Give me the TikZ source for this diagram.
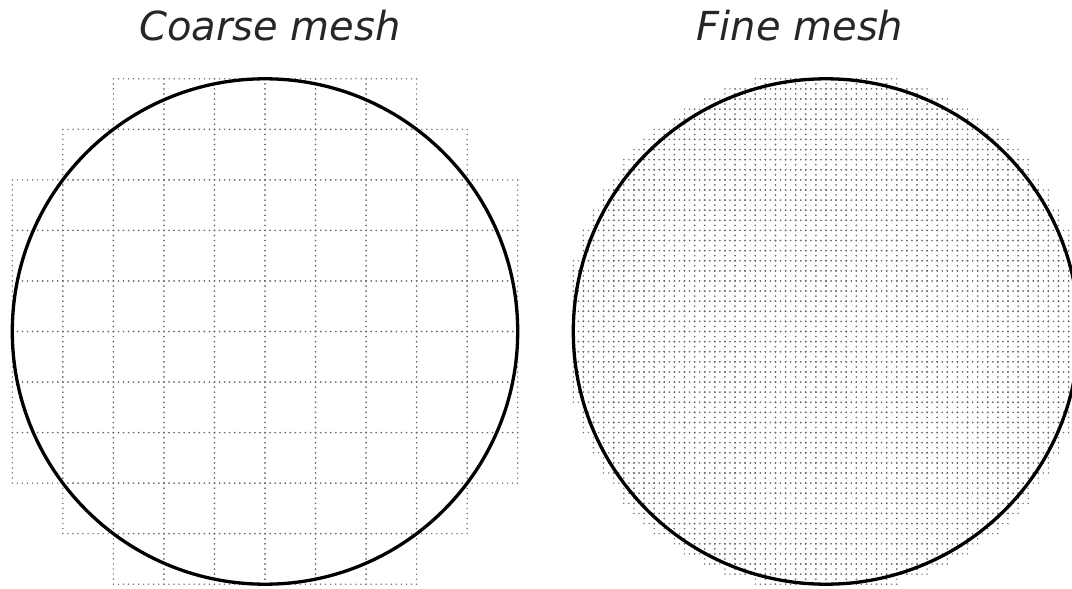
\documentclass[tikz,border=0pt]{standalone}
\usepackage{fontspec}
\setsansfont{DejaVu Sans}[ItalicFont={DejaVu Sans Oblique}]
\begin{document}
\begin{tikzpicture}[x=1pt,y=-1pt,
  cell/.style={draw=black!58, line width=1.6pt, line cap=round, dash pattern=on 0pt off 5.05pt},
  rim/.style={draw=black, line width=3.3pt},
  title/.style={font=\sffamily\itshape\fontsize{40}{48}\selectfont, text=black!85, anchor=base, inner sep=0pt}]
\useasboundingbox (0,0) rectangle (1072,589);
\clip (0,0) rectangle (1072,589);
% coarse mesh
\foreach \i in {-5,...,4}{
  \foreach \j in {-5,...,4}{
    \pgfmathtruncatemacro\dx{\i>=0 ? \i : -\i-1}
    \pgfmathtruncatemacro\dy{\j>=0 ? \j : -\j-1}
    \pgfmathtruncatemacro\ok{\dx*\dx+\dy*\dy<25 ? 1 : 0}
    \ifnum\ok=1
      \draw[cell] ({265+50.54*\i},{331.5+50.54*\j}) rectangle +(50.54,50.54);
    \fi
  }
}
% fine mesh
\foreach \i in {-25,...,24}{
  \foreach \j in {-25,...,24}{
    \pgfmathtruncatemacro\dx{\i>=0 ? \i : -\i-1}
    \pgfmathtruncatemacro\dy{\j>=0 ? \j : -\j-1}
    \pgfmathtruncatemacro\ok{\dx*\dx+\dy*\dy<625 ? 1 : 0}
    \ifnum\ok=1
      \draw[cell] ({826+10.108*\i},{331.5+10.108*\j}) rectangle +(10.108,10.108);
    \fi
  }
}
\draw[rim] (265,331.5) circle (252.7);
\draw[rim] (826,331.5) circle (252.7);
\node[title] (coarse) at (270,40) {Coarse mesh};
\node[title] (fine) at (800,40) {Fine mesh};
\end{tikzpicture}
\end{document}
